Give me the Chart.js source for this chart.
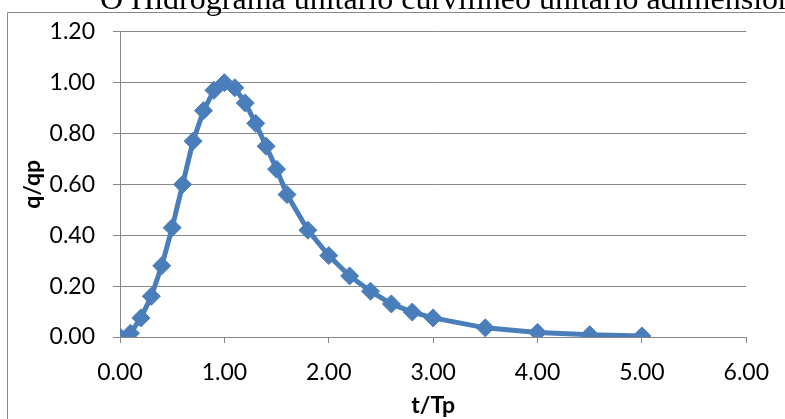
<!DOCTYPE html>
<html lang="pt-BR">
<head>
    <meta charset="UTF-8">
    <title>Hidrograma unitário adimensional</title>
    <script src="https://cdn.jsdelivr.net/npm/chart.js"></script>
    <style>
        html, body { margin: 0; padding: 0; background: #fff; }
        #wrap { width: 785px; height: 419px; position: relative; }
    </style>
</head>
<body>
    <div id="wrap"><canvas id="hidrograma"></canvas></div>
    <script>
        // t/Tp e q/qp (hidrograma adimensional do SCS)
        const tTp = [0, 0.1, 0.2, 0.3, 0.4, 0.5, 0.6, 0.7, 0.8, 0.9, 1.0, 1.1, 1.2, 1.3, 1.4, 1.5, 1.6,
                     1.8, 2.0, 2.2, 2.4, 2.6, 2.8, 3.0, 3.5, 4.0, 4.5, 5.0];
        const qQp = [0, 0.015, 0.075, 0.16, 0.28, 0.43, 0.60, 0.77, 0.89, 0.97, 1.00, 0.98, 0.92, 0.84, 0.75, 0.66, 0.56,
                     0.42, 0.32, 0.24, 0.18, 0.13, 0.098, 0.075, 0.036, 0.018, 0.009, 0.004];
        const xTicks = [0, 1, 2, 3, 4, 5, 6];
        const yTicks = [0, 0.2, 0.4, 0.6, 0.8, 1.0, 1.2];
        const titulo = 'O Hidrograma unitário curvilíneo unitário adimensional';

        const azul = '#4A7EBB';
        const cinza = '#878787';
        const fonte = 'Lato, "Open Sans", sans-serif';

        // moldura e título cortado no topo
        const moldura = {
            id: 'moldura',
            beforeDraw(chart) {
                const c = chart.ctx;
                c.save();
                c.fillStyle = '#fff';
                c.fillRect(0, 0, chart.width, chart.height);
                c.strokeStyle = cinza;
                c.lineWidth = 1;
                c.beginPath();
                c.moveTo(7.5, chart.height);
                c.lineTo(7.5, 12.5);
                c.lineTo(chart.width, 12.5);
                c.stroke();
                c.fillStyle = '#000';
                c.font = '32px "Liberation Serif", "DejaVu Serif", serif';
                c.textBaseline = 'alphabetic';
                c.fillText(titulo, 100, 9);
                c.restore();
            }
        };

        new Chart(document.getElementById('hidrograma'), {
            type: 'line',
            data: {
                datasets: [{
                    data: tTp.map((t, i) => ({ x: t, y: qQp[i] })),
                    borderColor: azul,
                    backgroundColor: azul,
                    borderWidth: 5,
                    pointStyle: 'rectRot',
                    pointRadius: 9,
                    pointBorderWidth: 1,
                    tension: 0,
                    fill: false
                }]
            },
            options: {
                responsive: true,
                maintainAspectRatio: false,
                animation: false,
                layout: { padding: { top: 31, right: 37, left: 0, bottom: 0 } },
                plugins: { legend: { display: false }, tooltip: { enabled: false }, title: { display: false } },
                scales: {
                    x: {
                        type: 'linear',
                        min: 0,
                        max: 6,
                        afterBuildTicks: s => { s.ticks = xTicks.map(v => ({ value: v })); },
                        afterFit: s => { s.height = 82; },
                        ticks: {
                            callback: v => Number(v).toFixed(2),
                            color: '#000',
                            font: { family: fonte, size: 23 },
                            padding: 16,
                            maxRotation: 0
                        },
                        grid: { drawOnChartArea: false, drawTicks: true, tickLength: 6, color: cinza },
                        border: { display: true, color: cinza, width: 1 },
                        title: {
                            display: true,
                            text: 't/Tp',
                            color: '#000',
                            font: { family: fonte, size: 23, weight: 'bold' },
                            padding: { top: 0, bottom: 0 }
                        }
                    },
                    y: {
                        min: 0,
                        max: 1.2,
                        afterBuildTicks: s => { s.ticks = yTicks.map(v => ({ value: v })); },
                        afterFit: s => { s.width = 120; },
                        ticks: {
                            callback: v => Number(v).toFixed(2),
                            color: '#000',
                            font: { family: fonte, size: 23 },
                            padding: 18
                        },
                        grid: { color: cinza, tickLength: 7, lineWidth: 1 },
                        border: { display: true, color: cinza, width: 1 },
                        title: {
                            display: true,
                            text: 'q/qp',
                            color: '#000',
                            font: { family: fonte, size: 23, weight: 'bold' },
                            padding: { top: 19, bottom: 0 }
                        }
                    }
                }
            },
            plugins: [moldura]
        });
    </script>
</body>
</html>
